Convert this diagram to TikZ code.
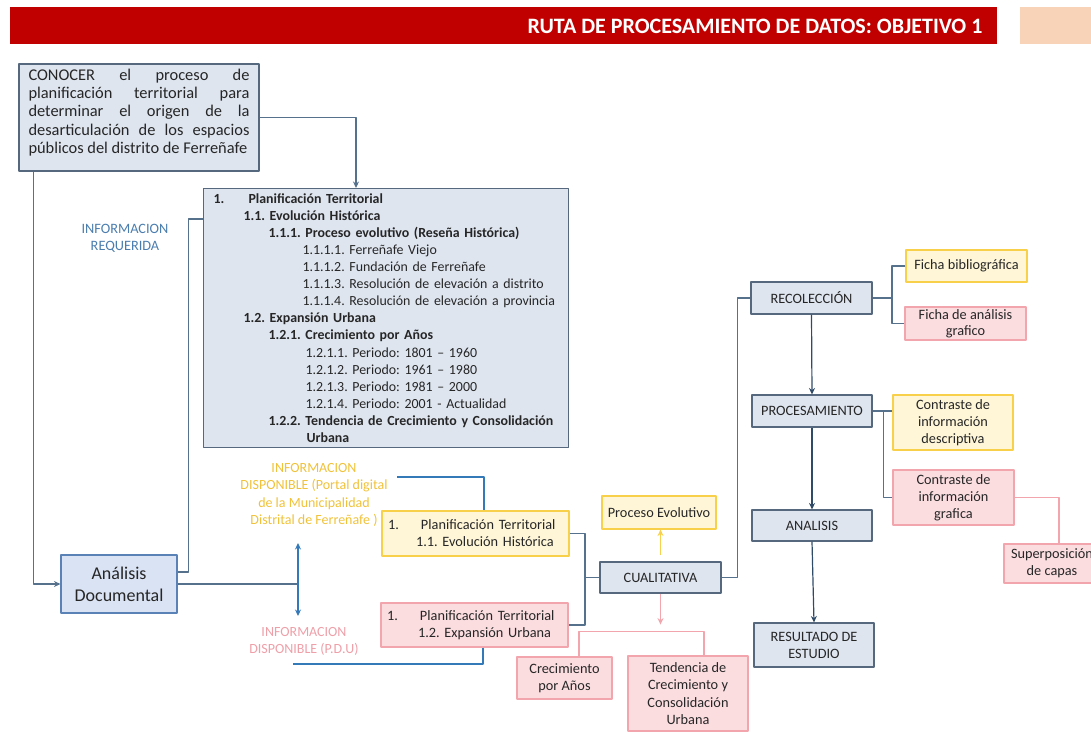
\documentclass[tikz,border=0pt]{standalone}
\usepackage{fontspec}
\setmainfont{Carlito}
\usetikzlibrary{calc,positioning,arrows.meta}
\definecolor{redbar}{HTML}{C00000}
\definecolor{peach}{HTML}{F9D3B8}
\definecolor{boxfill}{HTML}{DEE5EF}
\definecolor{boxline}{HTML}{56687E}
\definecolor{anafill}{HTML}{DAE3F3}
\definecolor{analine}{HTML}{5A82B6}
\definecolor{yelfill}{HTML}{FFF6D8}
\definecolor{yelline}{HTML}{F9D04A}
\definecolor{yeltext}{HTML}{F0C23A}
\definecolor{pinkfill}{HTML}{FBDDE0}
\definecolor{pinkline}{HTML}{F2A5AD}
\definecolor{pinktext}{HTML}{EE9FA8}
\definecolor{slate}{HTML}{56718C}
\definecolor{darkslate}{HTML}{2F4B68}
\definecolor{infoblue}{HTML}{3479B8}
\definecolor{reqblue}{HTML}{4A7DAE}

\begin{document}
\frenchspacing
\begin{tikzpicture}[x=1pt, y=-1pt, >={Stealth[length=6.5pt,width=6pt]}, line join=round, font=\fontsize{14.3}{17}\selectfont]
\tikzset{
  base box/.style={rectangle, draw, align=center, inner sep=2pt, line width=1.1pt, text=black!85},
  blue box/.style={base box, draw=boxline, fill=boxfill},
  yellow box/.style={base box, draw=yelline, fill=yelfill},
  pink box/.style={base box, draw=pinkline, fill=pinkfill},
  link line/.style={draw=slate, line width=1.1pt},
  down arrow/.style={draw=darkslate, line width=1.2pt, ->},
  info line/.style={draw=infoblue, line width=1.1pt},
  pink line/.style={draw=pinkline, line width=1.1pt}
}
\useasboundingbox (0,0) rectangle (1091,731);

% cabecera
\fill[redbar] (10,7) rectangle (997,44);
\fill[peach] (1020,7) rectangle (1091,44);
\node[anchor=east, text=white, font=\fontsize{22}{24}\selectfont\bfseries] (title) at (986,26) {RUTA DE PROCESAMIENTO DE DATOS: OBJETIVO 1};

% objetivo
\node[blue box, minimum width=240, minimum height=107, text width=221, align=justify, font=\fontsize{16.4}{18.3}\selectfont] (conocer) at (139,117.5)
  {CONOCER el proceso de\linebreak planificación territorial para\linebreak determinar el origen de la\linebreak desarticulación de los espacios\linebreak públicos del distrito de Ferreñafe\par\vspace{10pt}};

% informacion requerida
\node[blue box, anchor=north west, minimum width=365, minimum height=259, text width=345, align=left, inner xsep=10pt, font=\fontsize{13.9}{17.1}\selectfont] (tree) at (203,188) {%
\textbf{\makebox[35pt][l]{1.}Planificación Territorial}\\
\hspace*{30pt}\textbf{1.1. Evolución Histórica}\\
\hspace*{55pt}\textbf{1.1.1. Proceso evolutivo (Reseña Histórica)}\\
\hspace*{89pt}1.1.1.1. Ferreñafe Viejo\\
\hspace*{89pt}1.1.1.2. Fundación de Ferreñafe\\
\hspace*{89pt}1.1.1.3. Resolución de elevación a distrito\\
\hspace*{89pt}1.1.1.4. Resolución de elevación a provincia\\
\hspace*{30pt}\textbf{1.2. Expansión Urbana}\\
\hspace*{55pt}\textbf{1.2.1. Crecimiento por Años}\\
\hspace*{92pt}1.2.1.1. Periodo: 1801 – 1960\\
\hspace*{92pt}1.2.1.2. Periodo: 1961 – 1980\\
\hspace*{92pt}1.2.1.3. Periodo: 1981 – 2000\\
\hspace*{92pt}1.2.1.4. Periodo: 2001 - Actualidad\\
\hspace*{55pt}\textbf{1.2.2. Tendencia de Crecimiento y Consolidación}\\
\hspace*{93pt}\textbf{Urbana}};

\node[text=reqblue, align=center] (requerida) at (125,238) {INFORMACION\\REQUERIDA};

\node[base box, draw=analine, fill=anafill, minimum width=116, minimum height=58, font=\fontsize{18}{22}\selectfont] (analisis) at (119,584) {Análisis\\Documental};

% informacion disponible
\node[text=yeltext, align=center, font=\fontsize{14}{17.3}\selectfont] (portal) at (314,495) {INFORMACION\\DISPONIBLE (Portal digital\\de la Municipalidad\\Distrital de Ferreñafe )};
\node[text=pinktext, align=center, font=\fontsize{14}{17}\selectfont] (pdu) at (304,641) {INFORMACION\\DISPONIBLE (P.D.U)};

\node[yellow box, minimum width=187, minimum height=45, text width=175, align=left] (evol) at (475.5,533.5)
  {\makebox[33pt][l]{1.}Planificación Territorial\\\hspace*{28pt}1.1. Evolución Histórica};
\node[pink box, minimum width=187, minimum height=44, text width=175, align=left] (expan) at (474.5,625)
  {\makebox[33pt][l]{1.}Planificación Territorial\\\hspace*{31pt}1.2. Expansión Urbana};

% cualitativa
\node[blue box, minimum width=121, minimum height=31] (cual) at (660.5,577.5) {CUALITATIVA};
\node[yellow box, minimum width=114, minimum height=33] (procevol) at (659,512.5) {Proceso Evolutivo};
\node[pink box, minimum width=95, minimum height=42] (crec) at (564.5,678) {Crecimiento\\por Años};
\node[pink box, minimum width=120, minimum height=75, font=\fontsize{14.3}{17.4}\selectfont] (tend) at (688,693.5) {Tendencia de\\Crecimiento y\\Consolidación\\Urbana};

% ruta
\node[blue box, minimum width=121, minimum height=32] (recol) at (811.5,298) {RECOLECCIÓN};
\node[blue box, minimum width=120, minimum height=32] (proc) at (812,411) {PROCESAMIENTO};
\node[blue box, minimum width=120, minimum height=31] (ana) at (812,525.5) {ANALISIS};
\node[blue box, minimum width=120, minimum height=44] (res) at (814,645) {RESULTADO DE\\ESTUDIO};

\node[yellow box, minimum width=121, minimum height=32] (fbib) at (966.5,266) {Ficha bibliográfica};
\node[pink box, minimum width=121, minimum height=33, font=\fontsize{14.3}{16}\selectfont] (fgraf) at (965.5,323.5) {Ficha de análisis\\grafico};
\node[yellow box, minimum width=120, minimum height=55] (cdesc) at (953,422.5) {Contraste de\\información\\descriptiva};
\node[pink box, minimum width=121, minimum height=55] (cgraf) at (953.5,497.5) {Contraste de\\información\\grafica};
\node[pink box, minimum width=96, minimum height=39] (super) at (1052,563.5) {Superposición\\de capas};

% conectores izquierda
\draw[link line, ->] (conocer.east) -| ($(tree.north west)+(153,0)$);
\draw[link line, ->] ($(conocer.south west)+(15,0)$) |- (analisis.west);
\draw[link line] ($(tree.north west)+(0,31)$) -| ($(analisis.east)+(11,-12)$) -- ($(analisis.east)+(0,-12)$);

\coordinate (split) at (298,584);
\coordinate (up) at (298,543);
\coordinate (dn) at (298,616);
\draw[link line] (analisis.east) -- (split);
\draw[info line, <->] (up) -- (dn);

\draw[info line] ($(portal.center)+(83,-18)$) -| ($(evol.north)+(8.5,0)$);
\draw[info line] ($(expan.south)+(8.5,0)$) |- ($(pdu.center)+(-11,23)$);

% conectores centro
\coordinate (jn) at (585,577.5);
\draw[link line] (evol.east) -| (jn) |- (expan.east);
\draw[link line] (jn) -- (cual.west);
\draw[link line] (cual.east) -- ++(16,0) |- (recol.west);

\draw[draw=yelline, line width=1.2pt, ->, shorten <=6pt] (cual.north) -- (cual.north |- procevol.south);
\draw[pink line, ->] (cual.south) -- ++(0,31);
\draw[pink line] ($(crec.north)+(14.5,0)$) -- ++(0,-25) -| ($(tend.north)+(16,0)$);

% conectores derecha
\coordinate (jr) at (892,298);
\draw[link line] (recol.east) -- (jr);
\draw[link line] (fbib.west) -| (jr) |- (fgraf.west);
\draw[down arrow] (recol.south) -- (proc.north);
\draw[link line] (proc.east) -- (proc.east -| cdesc.west);
\draw[link line] ($(proc.east)+(11,0)$) |- (cgraf.west);
\draw[pink line] (cgraf.east) -| ($(super.north)+(7,0)$);
\draw[down arrow] (proc.south) -- (ana.north);
\draw[down arrow] (ana.south) -- (res.north);
\end{tikzpicture}
\end{document}
